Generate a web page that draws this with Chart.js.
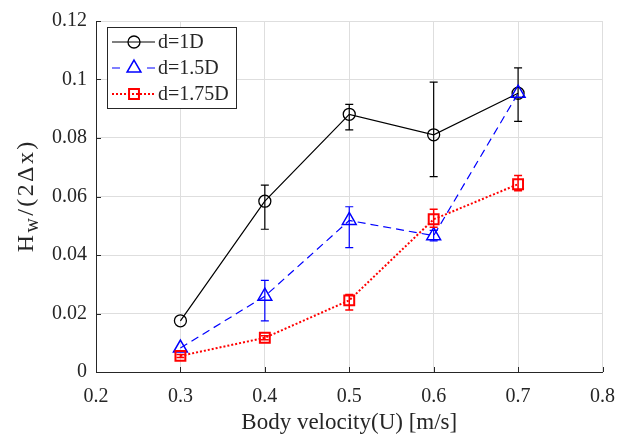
<!DOCTYPE html>
<html>
<head>
<meta charset="utf-8">
<script src="https://cdn.jsdelivr.net/npm/chart.js@4.4.1/dist/chart.umd.min.js"></script>
<style>
  html, body { margin: 0; padding: 0; background: #fff; }
</style>
</head>
<body>
<canvas id="chart" width="628" height="436"></canvas>
<script>
// velocities (x)
const velocity = [0.3, 0.4, 0.5, 0.6, 0.7];

// d = 1D
const h1D = [0.0175, 0.0584, 0.0881, 0.0811, 0.0953];
const lo1D = [null, 0.0488, 0.0828, 0.0668, 0.0857];
const hi1D = [null, 0.0639, 0.0915, 0.0991, 0.1040];

// d = 1.5D
const h15D = [0.0082, 0.0259, 0.0518, 0.0466, 0.0953];
const lo15D = [null, 0.0175, 0.0425, 0.0448, null];
const hi15D = [null, 0.0313, 0.0565, 0.0484, null];

// d = 1.75D
const h175D = [0.0055, 0.0117, 0.0245, 0.0522, 0.0642];
const lo175D = [0.0050, 0.0110, 0.0212, 0.0495, 0.0620];
const hi175D = [0.0060, 0.0124, 0.0265, 0.0556, 0.0672];

const seriesNames = ["d=1D", "d=1.5D", "d=1.75D"];
const xTickLabels = ["0.2", "0.3", "0.4", "0.5", "0.6", "0.7", "0.8"];
const yTickLabels = ["0", "0.02", "0.04", "0.06", "0.08", "0.1", "0.12"];

const FONT = "'Liberation Serif', 'Times New Roman', serif";
const TXT = "#262626";

const toPoints = (ys) => velocity.map((x, i) => ({ x: x, y: ys[i] }));

const styles = [
  { color: "#000000", dash: [], width: 1.2, point: "circle", r: 6, pw: 1.3, ew: 1.2, lo: lo1D, hi: hi1D },
  { color: "#0000ff", dash: [8, 5], width: 1.2, point: "triangle", r: 8, pw: 1.5, ew: 1.2, lo: lo15D, hi: hi15D },
  { color: "#ff0000", dash: [2, 2], width: 2, point: "rect", r: 7, pw: 2, ew: 1.5, lo: lo175D, hi: hi175D },
];
const values = [h1D, h15D, h175D];

// error bars drawn through the chart scales
const errorBars = {
  id: "errorBars",
  afterDatasetDraw(chart, args) {
    const s = styles[args.index];
    const { ctx, scales } = chart;
    ctx.save();
    ctx.strokeStyle = s.color;
    ctx.lineWidth = s.ew;
    ctx.setLineDash([]);
    velocity.forEach((v, i) => {
      if (s.lo[i] == null) return;
      const px = scales.x.getPixelForValue(v);
      const y1 = scales.y.getPixelForValue(s.lo[i]);
      const y2 = scales.y.getPixelForValue(s.hi[i]);
      ctx.beginPath();
      ctx.moveTo(px, y1); ctx.lineTo(px, y2);
      ctx.moveTo(px - 4, y1); ctx.lineTo(px + 4, y1);
      ctx.moveTo(px - 4, y2); ctx.lineTo(px + 4, y2);
      ctx.stroke();
    });
    ctx.restore();
  },
};

// draws a string char by char with extra spacing, returns the end x
function spacedText(ctx, str, x, y, gap) {
  for (const ch of str) {
    ctx.fillText(ch, x, y);
    x += ctx.measureText(ch).width + gap;
  }
  return x;
}
function spacedWidth(ctx, str, gap) {
  let w = 0;
  for (const ch of str) w += ctx.measureText(ch).width + gap;
  return w;
}

// inward ticks, axis titles and legend box (MATLAB look)
const decorations = {
  id: "decorations",
  afterDraw(chart) {
    const { ctx, chartArea: a, scales } = chart;
    ctx.save();
    ctx.strokeStyle = TXT;
    ctx.lineWidth = 1;
    ctx.beginPath();
    scales.y.ticks.forEach((t) => {
      const py = Math.round(scales.y.getPixelForValue(t.value)) + 0.5;
      ctx.moveTo(a.left, py); ctx.lineTo(a.left + 5, py);
    });
    scales.x.ticks.forEach((t) => {
      const px = Math.round(scales.x.getPixelForValue(t.value)) + 0.5;
      ctx.moveTo(px, a.bottom); ctx.lineTo(px, a.bottom - 5);
    });
    ctx.stroke();

    // x title
    ctx.fillStyle = TXT;
    ctx.font = "23px " + FONT;
    ctx.textAlign = "center";
    ctx.textBaseline = "alphabetic";
    ctx.fillText("Body velocity(U) [m/s]", (a.left + a.right) / 2, 429);

    // y title with subscript
    ctx.save();
    ctx.translate(33, 197);
    ctx.rotate(-Math.PI / 2);
    ctx.textAlign = "left";
    const big = "24px " + FONT, small = "20px " + FONT, gap = 2.4;
    ctx.font = big;
    const wA = spacedWidth(ctx, "H", gap), wC = spacedWidth(ctx, "/(2\u0394x)", gap) - gap;
    ctx.font = small;
    const wB = spacedWidth(ctx, "w", gap);
    let x0 = -(wA + wB + wC) / 2;
    ctx.font = big; x0 = spacedText(ctx, "H", x0, 0, gap);
    ctx.font = small; x0 = spacedText(ctx, "w", x0, 5, gap);
    ctx.font = big; spacedText(ctx, "/(2\u0394x)", x0, 0, gap);
    ctx.restore();

    // legend
    const lx = 107.5, ly = 27.5, lw = 129, lh = 81;
    ctx.fillStyle = "#ffffff";
    ctx.fillRect(lx, ly, lw, lh);
    ctx.strokeStyle = TXT;
    ctx.lineWidth = 1;
    ctx.strokeRect(lx, ly, lw, lh);
    const rows = [42, 68, 94];
    styles.forEach((s, i) => {
      const y = rows[i];
      ctx.strokeStyle = s.color;
      ctx.lineWidth = s.width;
      ctx.setLineDash(s.dash);
      ctx.beginPath();
      if (i === 1) {
        ctx.moveTo(112, y); ctx.lineTo(120, y);
        ctx.moveTo(147, y); ctx.lineTo(155, y);
      } else {
        ctx.moveTo(112, y); ctx.lineTo(155, y);
      }
      ctx.stroke();
      ctx.setLineDash([]);
      ctx.lineWidth = s.pw;
      ctx.fillStyle = "rgba(255,255,255,0)";
      Chart.helpers.drawPoint(ctx, { pointStyle: s.point, radius: s.r, borderWidth: s.pw }, 134, y);
      ctx.fillStyle = TXT;
      ctx.font = "20px " + FONT;
      ctx.textAlign = "left";
      ctx.textBaseline = "middle";
      ctx.fillText(seriesNames[i], 158, y + 1);
    });
    ctx.restore();
  },
};

new Chart(document.getElementById("chart"), {
  type: "line",
  data: {
    datasets: styles.map((s, i) => ({
      label: seriesNames[i],
      data: toPoints(values[i]),
      borderColor: s.color,
      borderWidth: s.width,
      borderDash: s.dash,
      pointStyle: s.point,
      pointRadius: s.r,
      pointBorderWidth: s.pw,
      pointBorderColor: s.color,
      pointBackgroundColor: "rgba(0,0,0,0)",
      fill: false,
      tension: 0,
      order: 3 - i,
    })),
  },
  options: {
    responsive: false,
    animation: false,
    layout: { padding: { top: 15, right: 24, left: 0, bottom: 0 } },
    plugins: { legend: { display: false }, tooltip: { enabled: false } },
    scales: {
      x: {
        type: "linear",
        min: 0.2,
        max: 0.8,
        afterFit: (scale) => { scale.height = 64; },
        afterBuildTicks: (scale) => {
          scale.ticks = xTickLabels.map((t) => ({ value: parseFloat(t) }));
        },
        ticks: {
          callback: (v, i) => xTickLabels[i],
          color: TXT,
          font: { family: FONT, size: 20 },
          padding: 13,
          maxRotation: 0,
        },
        grid: { color: "#dedede", drawTicks: false },
        border: { color: TXT, width: 1 },
      },
      y: {
        min: 0,
        max: 0.12,
        afterFit: (scale) => { scale.width = 96; },
        afterBuildTicks: (scale) => {
          scale.ticks = yTickLabels.map((t) => ({ value: parseFloat(t) }));
        },
        ticks: {
          callback: (v, i) => yTickLabels[i],
          color: TXT,
          font: { family: FONT, size: 20 },
          padding: 9,
        },
        grid: { color: "#dedede", drawTicks: false },
        border: { color: TXT, width: 1 },
      },
    },
  },
  plugins: [errorBars, decorations],
});
</script>
</body>
</html>
